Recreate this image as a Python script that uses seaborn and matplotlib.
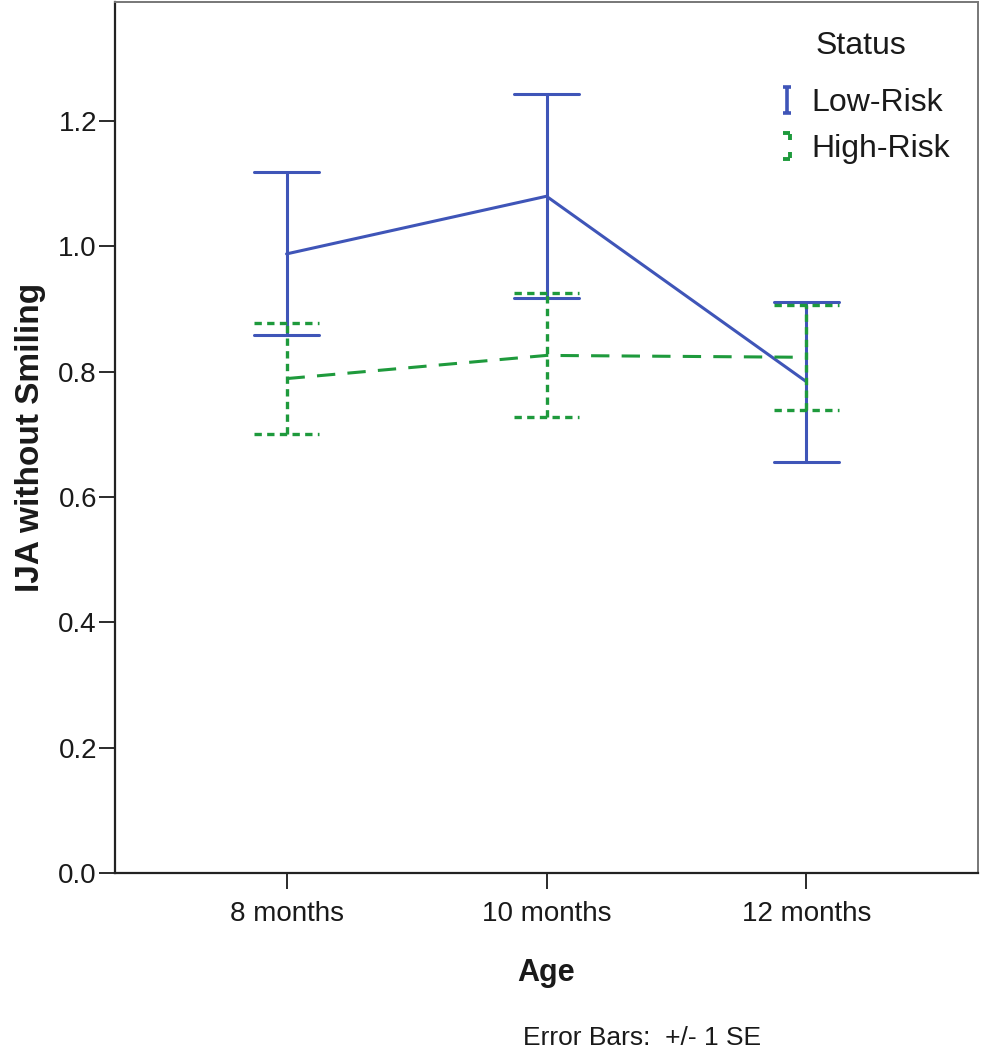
import numpy as np
import pandas as pd
import matplotlib
matplotlib.use("Agg")
import matplotlib.pyplot as plt
from matplotlib.path import Path
from matplotlib.lines import Line2D
import seaborn as sns

# ---- data ----
ages = ["8 months", "10 months", "12 months"]
low_mean = [0.988, 1.080, 0.784]
low_se = [0.130, 0.163, 0.128]
high_mean = [0.789, 0.826, 0.823]
high_se = [0.089, 0.099, 0.084]
groups = ["Low-Risk", "High-Risk"]
yticks = [0.0, 0.2, 0.4, 0.6, 0.8, 1.0, 1.2]

BLUE = "#3F55B8"
GREEN = "#1E9A3C"
TXT = "#1a1a1a"


def make_df(means, ses, group):
    rows = []
    for a, m, s in zip(ages, means, ses):
        for v in (m - s, m, m + s):
            rows.append({"Age": a, "val": v, "Status": group})
    return pd.DataFrame(rows)


df_low = make_df(low_mean, low_se, groups[0])
df_high = make_df(high_mean, high_se, groups[1])

sns.set_style("white")
plt.rcParams["font.family"] = ["Liberation Sans", "DejaVu Sans"]

W, H = 983, 1050
fig = plt.figure(figsize=(W / 100, H / 100), dpi=100)
ax = fig.add_axes([115 / W, 177 / H, 863 / W, 871 / H])

sns.pointplot(data=df_low, x="Age", y="val", order=ages, estimator="mean",
              errorbar=("pi", 100), capsize=0.25, color=BLUE,
              linestyle="-", marker="", linewidth=2.2,
              err_kws={"linewidth": 2.2, "color": BLUE}, ax=ax)
sns.pointplot(data=df_high, x="Age", y="val", order=ages, estimator="mean",
              errorbar=("pi", 100), capsize=0.25, color=GREEN,
              linestyle=(0, (6, 4)), marker="", linewidth=2.2,
              err_kws={"linewidth": 2.4, "color": GREEN,
                       "linestyle": (0, (2.2, 1.6))}, ax=ax)

ax.set_xlim(-0.66, 2.66)
ax.set_ylim(0, 1.39)
ax.set_yticks(yticks)
ax.set_yticklabels([f"{t:.1f}" for t in yticks])
ax.tick_params(axis="both", labelsize=20, colors=TXT, length=11.5, width=1.3)
ax.tick_params(axis="y", direction="out", left=True, pad=1.5)
ax.tick_params(axis="x", direction="out", bottom=True, pad=9)
ax.set_xlabel("Age", fontsize=22, fontweight="bold", labelpad=22, color=TXT)
ax.set_ylabel("IJA without Smiling", fontsize=24, fontweight="bold",
              labelpad=9, color=TXT)

for side in ["left", "bottom"]:
    ax.spines[side].set_color("#222222")
    ax.spines[side].set_linewidth(1.6)
for side in ["top", "right"]:
    ax.spines[side].set_color("#777777")
    ax.spines[side].set_linewidth(1.4)

# legend icons
i_path = Path([(-0.3, 1), (0.3, 1), (0, 1), (0, -1), (-0.3, -1), (0.3, -1)],
              [Path.MOVETO, Path.LINETO, Path.MOVETO, Path.LINETO, Path.MOVETO, Path.LINETO])
b_path = Path([(-0.3, 1), (0.25, 1), (0.25, 0.9), (0.25, 0.45),
               (0.25, -0.45), (0.25, -0.9), (0.25, -1), (-0.3, -1)],
              [Path.MOVETO, Path.LINETO, Path.MOVETO, Path.LINETO,
               Path.MOVETO, Path.LINETO, Path.MOVETO, Path.LINETO])
handles = [
    Line2D([], [], linestyle="none", marker=i_path, markersize=19,
           markeredgecolor=BLUE, markeredgewidth=2.6, markerfacecolor="none"),
    Line2D([], [], linestyle="none", marker=b_path, markersize=19,
           markeredgecolor=GREEN, markeredgewidth=2.8, markerfacecolor="none"),
]
leg = ax.legend(handles, groups, loc="center left",
                bbox_to_anchor=(778 / W, 1 - 126 / H),
                bbox_transform=fig.transFigure, frameon=False, fontsize=23,
                handlelength=0.55, handletextpad=0.5,
                labelspacing=0.5, borderaxespad=0, borderpad=0)
for t in leg.get_texts():
    t.set_color(TXT)
fig.text(861 / W, 1 - 46 / H, "Status", ha="center", va="center",
         fontsize=23, color=TXT)

fig.text(642 / W, 1 - 1038 / H, "Error Bars:  +/- 1 SE", ha="center",
         va="center", fontsize=19, color=TXT)

fig.savefig("out.png", dpi=100)
